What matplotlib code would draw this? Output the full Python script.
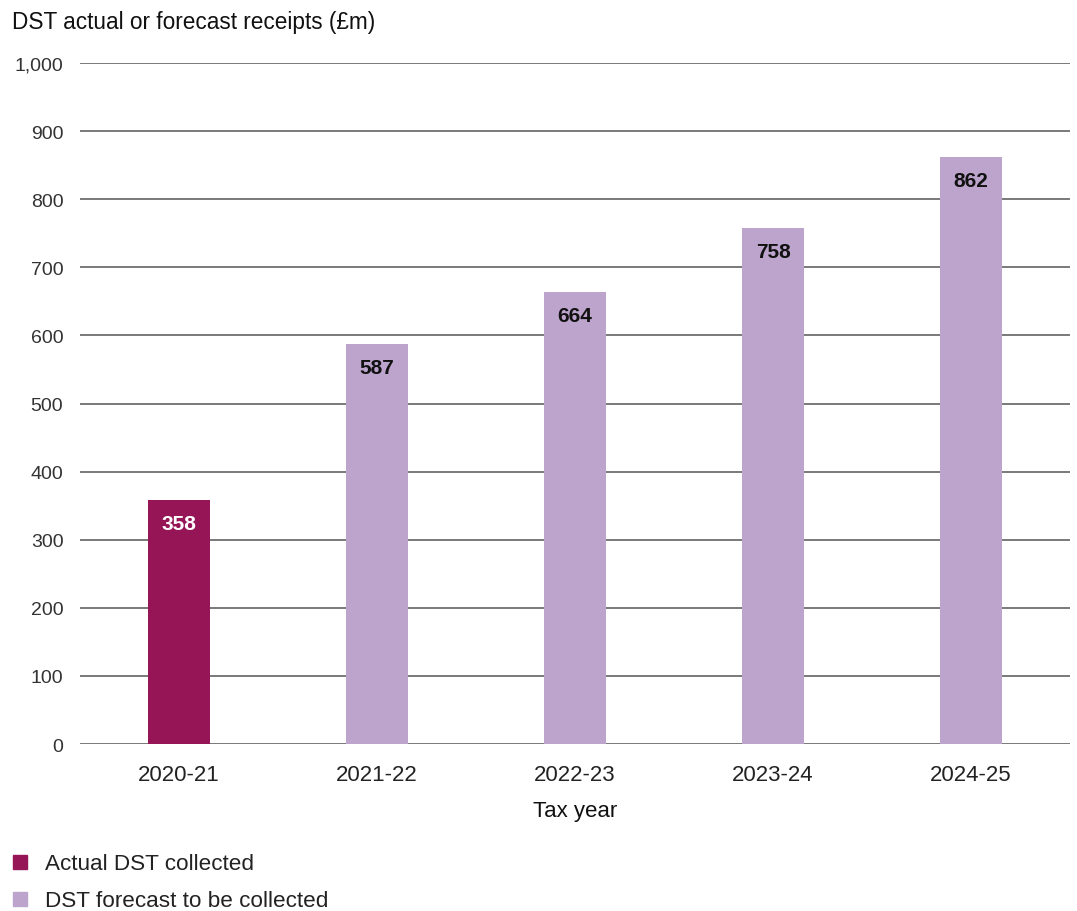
import matplotlib
matplotlib.use("Agg")
import matplotlib.pyplot as plt
from matplotlib.patches import Rectangle

plt.rcParams['font.family'] = ['Liberation Sans', 'DejaVu Sans']

years = ["2020-21", "2021-22", "2022-23", "2023-24", "2024-25"]
receipts = [358, 587, 664, 758, 862]
is_actual = [True, False, False, False, False]
y_ticks = [0, 100, 200, 300, 400, 500, 600, 700, 800, 900, 1000]
legend_labels = ["Actual DST collected", "DST forecast to be collected"]

actual_color = "#961556"
forecast_color = "#bca4cd"
grid_color = "#555555"
text_color = "#222222"

fig = plt.figure(figsize=(10.77, 9.12), dpi=100)
ax = fig.add_axes([0.0743, 0.1831, 0.9192, 0.7467])

x = list(range(len(years)))
colors = [actual_color if a else forecast_color for a in is_actual]
bars = ax.bar(x, receipts, width=0.31, color=colors, zorder=3)

for xi, v, a in zip(x, receipts, is_actual):
    ax.annotate(f"{v}", (xi, v), xytext=(0, -17), textcoords="offset points",
                ha="center", va="center", fontsize=15, fontweight="bold",
                color="white" if a else "#111111", zorder=4)

ax.set_xlim(-0.5, len(years) - 0.5)
ax.set_ylim(0, 1000)
ax.set_yticks(y_ticks)
ax.set_yticklabels([f"{t:,}" for t in y_ticks])
ax.set_xticks(x)
ax.set_xticklabels(years)
ax.yaxis.grid(True, color=grid_color, linewidth=1.1, zorder=1)
ax.set_axisbelow(True)
for s in ax.spines.values():
    s.set_visible(False)
ax.tick_params(axis="both", length=0, colors="#333333")
ax.tick_params(axis="y", labelsize=14, pad=12)
ax.tick_params(axis="x", labelsize=16, pad=14.5, colors=text_color)
ax.set_xlabel("Tax year", fontsize=16, color="#111111", labelpad=11)

fig.text(12 / 1077, 1 - 22 / 912, "DST actual or forecast receipts (£m)",
         fontsize=16.3, color="#111111", ha="left", va="center")

# Legend drawn by hand: a small square swatch and a label per series
for i, (lab, col) in enumerate(zip(legend_labels, [actual_color, forecast_color])):
    base = 870 + 37 * i
    fig.patches.append(Rectangle((13 / 1077, 1 - base / 912), 14 / 1077, 14 / 912,
                                 transform=fig.transFigure, color=col, figure=fig))
    fig.text(45 / 1077, 1 - base / 912, lab, fontsize=16.2, color="#222222",
             ha="left", va="baseline")

fig.savefig("out.png", dpi=100)
